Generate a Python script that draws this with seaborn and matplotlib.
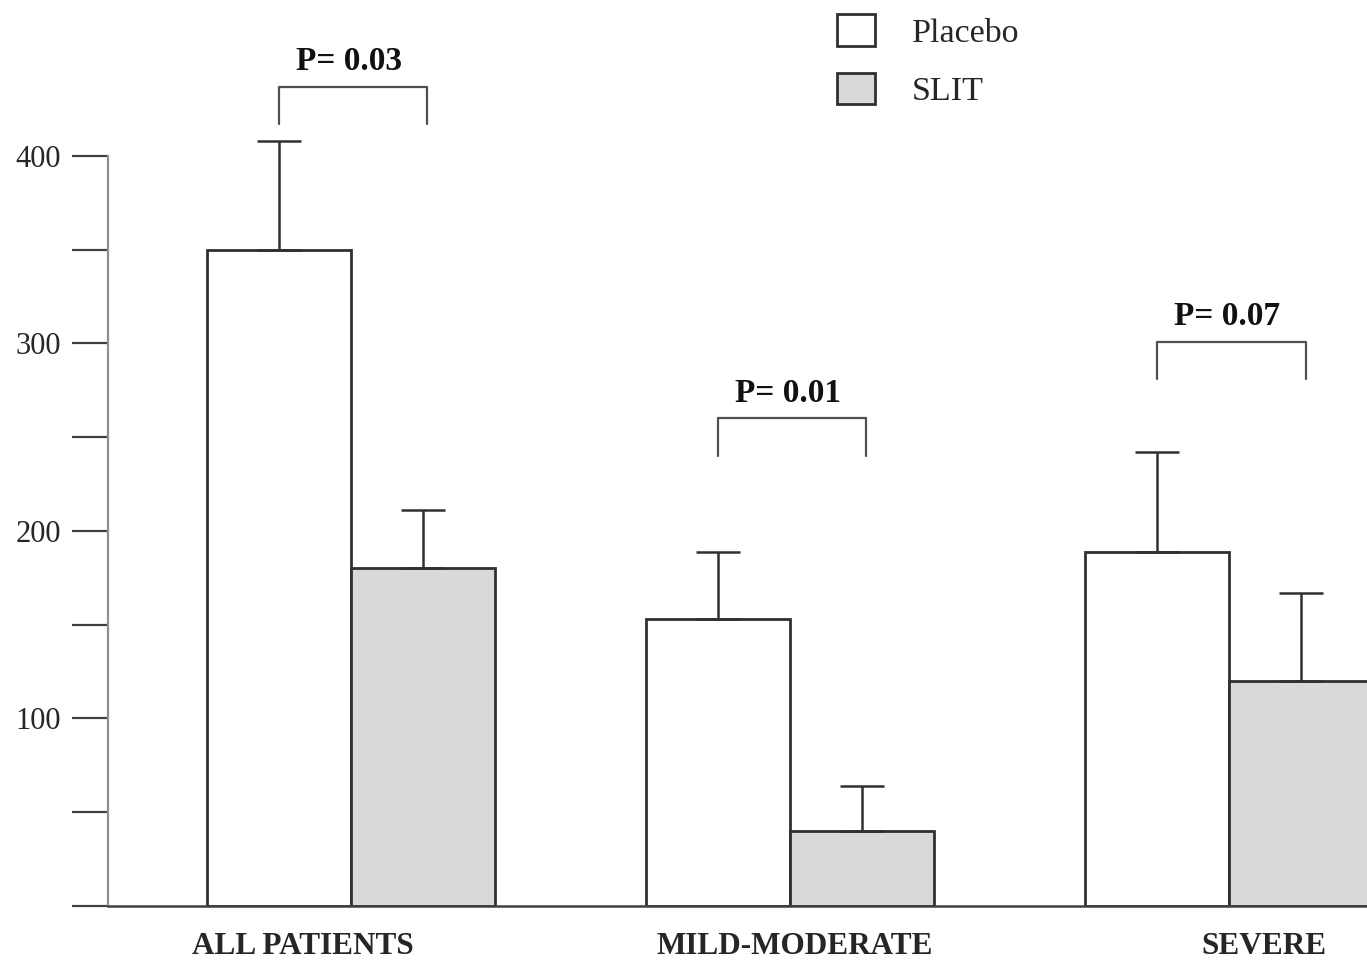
import numpy as np
import pandas as pd
import matplotlib
matplotlib.use("Agg")
import matplotlib.pyplot as plt
import seaborn as sns

# values
groups = ["ALL PATIENTS", "MILD-MODERATE", "SEVERE"]
treatments = ["Placebo", "SLIT"]
placebo = [350, 153, 189]
placebo_err = [58, 36, 53]
slit = [180, 40, 120]
slit_err = [31, 24, 47]
p_labels = ["P= 0.03", "P= 0.01", "P= 0.07"]
bracket_top = [437, 260, 301]
bracket_drop = 20

df = pd.DataFrame({
    "group": groups * 2,
    "treatment": ["Placebo"] * 3 + ["SLIT"] * 3,
    "value": placebo + slit,
})

sns.set_theme(style="white")
plt.rcParams["font.family"] = ["Liberation Serif", "DejaVu Serif"]

fig = plt.figure(figsize=(13.67, 9.63), dpi=100)
ax = fig.add_axes([0.079, 0.0592, 0.921, 0.9408])

edge = "#303030"
sns.barplot(data=df, x="group", y="value", hue="treatment", order=groups,
            hue_order=treatments, palette={"Placebo": "white", "SLIT": "#d9d9d9"},
            width=0.656, errorbar=None, edgecolor=edge, linewidth=2.0, ax=ax)

# upper error bars
errs = [placebo_err, slit_err]
centers = []
for cont, err in zip(ax.containers, errs):
    xs = [b.get_x() + b.get_width() / 2 for b in cont]
    ys = [b.get_height() for b in cont]
    centers.append(xs)
    ax.errorbar(xs, ys, yerr=[np.zeros(len(err)), err], fmt="none",
                ecolor=edge, elinewidth=1.8, capsize=16, capthick=1.8, zorder=1)

# significance brackets
for i, lab in enumerate(p_labels):
    x0, x1 = centers[0][i], centers[1][i] + 0.01
    top = bracket_top[i]
    ax.plot([x0, x0, x1, x1], [top - bracket_drop, top, top, top - bracket_drop],
            color="#505050", lw=1.6, clip_on=False)
    ax.text((x0 + x1) / 2 - 0.01, top + 5, lab, ha="center", va="bottom",
            fontsize=24, fontweight="bold", color="#111111")

ax.set_xlim(-0.553, 2.314)
ax.set_ylim(0, 483.2)

ticks = np.arange(0, 401, 50)
ax.set_yticks(ticks)
ax.set_yticklabels([str(t) if t % 100 == 0 and t > 0 else "" for t in ticks])
ax.tick_params(axis="y", direction="out", length=26, width=1.6, color="#404040",
               pad=8, labelsize=22, left=True)
ax.set_xticks([-0.11, 1.01, 2.08])
ax.set_xticklabels(groups, fontsize=22.5, fontweight="bold")
ax.tick_params(axis="x", length=0, pad=19)

for s in ["top", "right"]:
    ax.spines[s].set_visible(False)
ax.spines["left"].set_bounds(0, 400)
ax.spines["left"].set_color("#909090")
ax.spines["left"].set_linewidth(1.6)
ax.spines["bottom"].set_color("#404040")
ax.spines["bottom"].set_linewidth(1.8)
ax.set_xlabel("")
ax.set_ylabel("")

handles, labels = ax.get_legend_handles_labels()
ax.legend(handles, labels, loc="upper left", bbox_to_anchor=(0.612, 0.985),
          bbox_transform=fig.transFigure, frameon=False, fontsize=24.5,
          handlelength=1.12, handleheight=1.05, labelspacing=0.7,
          handletextpad=1.1, borderpad=0, borderaxespad=0)

fig.savefig("out.png", dpi=100, facecolor="white")
